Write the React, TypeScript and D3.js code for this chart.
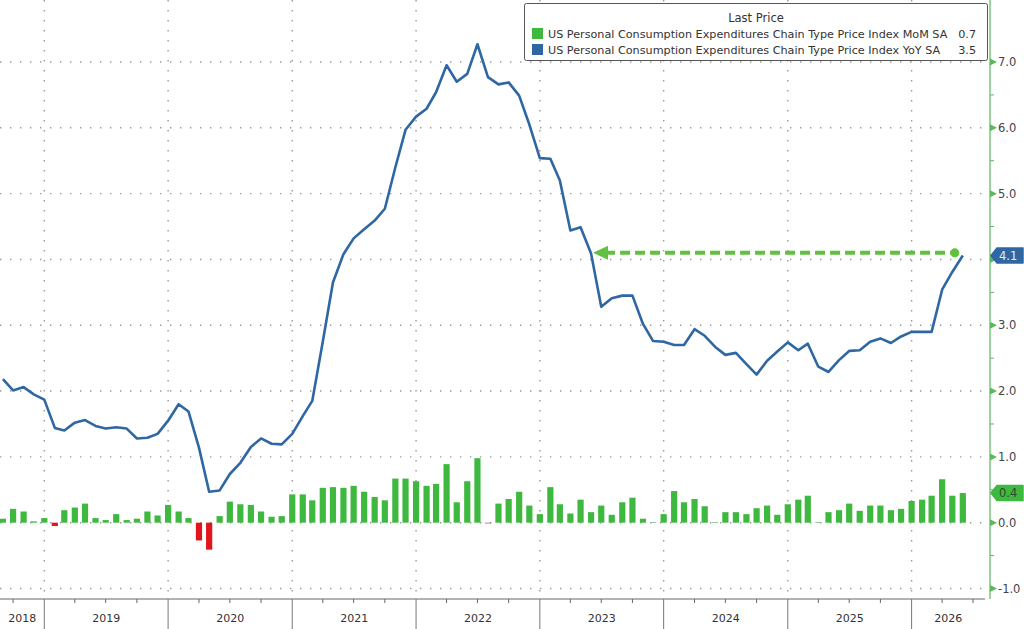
import * as d3 from "d3";

// monthly observations, first one is Aug 2018, each plotted at the start of the following month
const START_YEAR = 2018;
const START_MONTH = 7;

// PCE price index YoY %, Aug 2018 .. May 2026
const yoy = [
  2.18, 2.01, 2.06, 1.95, 1.87,
  1.44, 1.4, 1.52, 1.56, 1.47, 1.43, 1.45, 1.43, 1.28, 1.29, 1.35, 1.55,
  1.8, 1.69, 1.14, 0.47, 0.49, 0.74, 0.91, 1.15, 1.28, 1.2, 1.19, 1.35,
  1.62, 1.85, 2.75, 3.65, 4.08, 4.32, 4.46, 4.59, 4.77, 5.4, 5.97, 6.17,
  6.29, 6.54, 6.95, 6.7, 6.82, 7.27, 6.77, 6.66, 6.69, 6.49, 6.05, 5.54,
  5.53, 5.2, 4.44, 4.49, 4.09, 3.28, 3.41, 3.45, 3.45, 3.02, 2.76, 2.75,
  2.7, 2.7, 2.94, 2.84, 2.67, 2.55, 2.58, 2.41, 2.25, 2.46, 2.6, 2.74,
  2.62, 2.72, 2.37, 2.29, 2.47, 2.61, 2.62, 2.75, 2.8, 2.73, 2.83, 2.9,
  2.9, 2.9, 3.54, 3.81, 4.06,
];

// PCE price index MoM %, same months
const mom = [
  0.06, 0.21, 0.17, 0.02, 0.07,
  -0.05, 0.19, 0.23, 0.29, 0.07, 0.04, 0.13, 0.04, 0.06, 0.17, 0.11, 0.27,
  0.17, 0.07, -0.27, -0.41, 0.1, 0.32, 0.28, 0.27, 0.17, 0.09, 0.1, 0.43,
  0.43, 0.34, 0.53, 0.54, 0.53, 0.56, 0.47, 0.39, 0.34, 0.67, 0.67, 0.63,
  0.56, 0.59, 0.89, 0.31, 0.63, 0.98, -0.01, 0.29, 0.36, 0.47, 0.26, 0.13,
  0.54, 0.28, 0.14, 0.35, 0.16, 0.26, 0.12, 0.31, 0.38, 0.06, 0.01, 0.13,
  0.48, 0.31, 0.36, 0.25, 0.01, 0.16, 0.16, 0.13, 0.22, 0.26, 0.12, 0.28,
  0.35, 0.41, 0.01, 0.16, 0.19, 0.29, 0.18, 0.26, 0.26, 0.19, 0.21, 0.33,
  0.35, 0.41, 0.66, 0.41, 0.45,
];

const yTicks = [-1, 0, 1, 2, 3, 4, 5, 6, 7];
const yMinorTicks = [-0.5, 0.5, 1.5, 2.5, 3.5, 4.5, 5.5, 6.5];
const years = [2018, 2019, 2020, 2021, 2022, 2023, 2024, 2025, 2026];

const LEGEND_TITLE = "Last Price";
const LEGEND_MOM = "US Personal Consumption Expenditures Chain Type Price Index MoM SA";
const LEGEND_YOY = "US Personal Consumption Expenditures Chain Type Price Index YoY SA";
const LEGEND_MOM_VALUE = "0.7";
const LEGEND_YOY_VALUE = "3.5";
const TAG_YOY = "4.1";
const TAG_MOM = "0.4";
const ARROW_LEVEL = 4.1;
const ARROW_FROM = 57; // May 2023 observation

const W = 1024;
const H = 629;
const AXIS_X = 990;
const AXIS_BOTTOM = 599;
const AXIS_END = 985;

const GREEN = "#3fb83f";
const RED = "#e0161c";
const BLUE = "#2f67a3";
const ARROW_GREEN = "#62c040";
const AXIS_GREEN = "#5cb85c";
const FONT = "'DejaVu Sans', Verdana, sans-serif";

const dates = yoy.map((_, i) => new Date(START_YEAR, START_MONTH + i + 1, 1));

const x = d3
  .scaleTime()
  .domain([new Date(2019, 0, 1), new Date(2026, 0, 1)])
  .range([44.3, 911.6]);

const y = d3.scaleLinear().domain([-1, 7]).range([588.5, 62]);

const line = d3
  .line<number>()
  .x((_, i) => x(dates[i]))
  .y((d) => y(d));

const quarterTicks = d3
  .timeMonth
  .every(3)!
  .range(new Date(2018, 9, 1), new Date(2026, 7, 1))
  .filter((d) => d.getMonth() !== 0);

function Tag({ yc, label, fill, color }: { yc: number; label: string; fill: string; color: string }) {
  const p = [
    [AXIS_X + 1, yc],
    [AXIS_X + 7, yc - 7.5],
    [W - 1, yc - 7.5],
    [W - 1, yc + 7.5],
    [AXIS_X + 7, yc + 7.5],
  ];
  return (
    <g>
      <polygon points={p.map((q) => q.join(",")).join(" ")} fill={fill} stroke={fill} strokeLinejoin="round" strokeWidth={1.5} />
      <text x={AXIS_X + 9} y={yc} dy="0.35em" fill={color} fontSize={11.5}>
        {label}
      </text>
    </g>
  );
}

export default function App() {
  const barW = 6.2;
  const y0 = y(0);
  const lastX = x(dates[dates.length - 1]);
  const arrowY = y(ARROW_LEVEL);
  const arrowTip = x(dates[ARROW_FROM]) + 2;
  const dotX = lastX - 8;
  const yoyTagY = y(yoy[yoy.length - 1]);
  const momTagY = y(mom[mom.length - 1]);
  // tick labels hidden behind the last-value tags
  const hidden = (t: number) => Math.abs(y(t) - yoyTagY) < 12 || Math.abs(y(t) - momTagY) < 12;

  return (
    <div style={{ position: "absolute", left: 0, top: 0, width: W, height: H, background: "#fff" }}>
      <svg width={W} height={H} style={{ display: "block", fontFamily: FONT }}>
        <rect width={W} height={H} fill="#fff" />

        {/* dotted grid */}
        <g stroke="#9a9a9a" strokeWidth={1.4} strokeDasharray="1.4 8.6">
          {yTicks.map((t) => (
            <line key={t} x1={0} x2={AXIS_X - 2} y1={y(t)} y2={y(t)} />
          ))}
          {years.slice(1).map((yr) => {
            const xv = x(new Date(yr, 0, 1));
            return <line key={yr} x1={xv} x2={xv} y1={0} y2={AXIS_BOTTOM} />;
          })}
        </g>

        {/* MoM bars */}
        <g>
          {mom.map((v, i) => (
            <rect
              key={i}
              x={x(dates[i]) - barW / 2}
              width={barW}
              y={v >= 0 ? y(v) : y0}
              height={Math.max(0.8, Math.abs(y(v) - y0))}
              fill={v >= 0.015 ? GREEN : v < 0 ? (v > -0.02 ? "#b07070" : RED) : "#8fb88f"}
            />
          ))}
        </g>

        {/* YoY line */}
        <path d={line(yoy) ?? ""} fill="none" stroke={BLUE} strokeWidth={2.6} strokeLinejoin="round" />

        {/* annotation arrow */}
        <line
          x1={arrowTip + 12}
          x2={dotX}
          y1={arrowY}
          y2={arrowY}
          stroke={ARROW_GREEN}
          strokeWidth={4}
          strokeDasharray="10 5"
        />
        <polygon
          points={`${arrowTip},${arrowY} ${arrowTip + 15},${arrowY - 7} ${arrowTip + 15},${arrowY + 7}`}
          fill={ARROW_GREEN}
        />
        <circle cx={dotX} cy={arrowY} r={4.5} fill={ARROW_GREEN} />

        {/* legend */}
        <g>
          <rect x={524.5} y={3.5} width={463} height={57} rx={2} fill="#fff" stroke="#555" strokeWidth={1} />
          <text x={756} y={22} textAnchor="middle" fontSize={11.5} fill="#333">
            {LEGEND_TITLE}
          </text>
          <rect x={532} y={28} width={11} height={11} fill={GREEN} />
          <text x={548} y={38} fontSize={11.2} fill="#333">
            {LEGEND_MOM}
          </text>
          <text x={976} y={38} fontSize={11.2} fill="#333" textAnchor="end">
            {LEGEND_MOM_VALUE}
          </text>
          <rect x={532} y={44} width={11} height={11} fill={BLUE} />
          <text x={548} y={54} fontSize={11.2} fill="#333">
            {LEGEND_YOY}
          </text>
          <text x={976} y={54} fontSize={11.2} fill="#333" textAnchor="end">
            {LEGEND_YOY_VALUE}
          </text>
        </g>

        {/* right axis */}
        <g>
          <line x1={AXIS_X} x2={AXIS_X} y1={0} y2={AXIS_BOTTOM} stroke={AXIS_GREEN} strokeWidth={1.2} />
          {yMinorTicks.map((t) => (
            <line key={t} x1={AXIS_X} x2={AXIS_X + 4} y1={y(t)} y2={y(t)} stroke={AXIS_GREEN} />
          ))}
          {yTicks.map((t) => (
            <g key={t}>
              <polygon
                points={`${AXIS_X},${y(t) - 3.5} ${AXIS_X + 7},${y(t)} ${AXIS_X},${y(t) + 3.5}`}
                fill={AXIS_GREEN}
              />
              {!hidden(t) && (
                <text x={AXIS_X + 8} y={y(t)} dy="0.35em" fontSize={11.5} fill="#444">
                  {t.toFixed(1)}
                </text>
              )}
            </g>
          ))}
          <Tag yc={yoyTagY} label={TAG_YOY} fill={BLUE} color="#e4ecf6" />
          <Tag yc={momTagY} label={TAG_MOM} fill={GREEN} color="#2e4a2e" />
        </g>

        {/* bottom axis */}
        <g>
          <line x1={0} x2={AXIS_END} y1={AXIS_BOTTOM} y2={AXIS_BOTTOM} stroke="#666" strokeWidth={1.2} />
          {quarterTicks.map((d) => (
            <line
              key={+d}
              x1={x(d)}
              x2={x(d)}
              y1={AXIS_BOTTOM}
              y2={AXIS_BOTTOM + 4}
              stroke="#666"
            />
          ))}
          {years.slice(1).map((yr) => {
            const xv = x(new Date(yr, 0, 1));
            return <line key={yr} x1={xv} x2={xv} y1={AXIS_BOTTOM} y2={H} stroke="#777" />;
          })}
          {years.map((yr) => {
            const a = Math.max(0, x(new Date(yr, 0, 1)));
            const b = Math.min(AXIS_END, x(new Date(yr + 1, 0, 1)));
            return (
              <text key={yr} x={(a + b) / 2} y={622} textAnchor="middle" fontSize={11} fill="#333">
                {yr}
              </text>
            );
          })}
        </g>
      </svg>
    </div>
  );
}
